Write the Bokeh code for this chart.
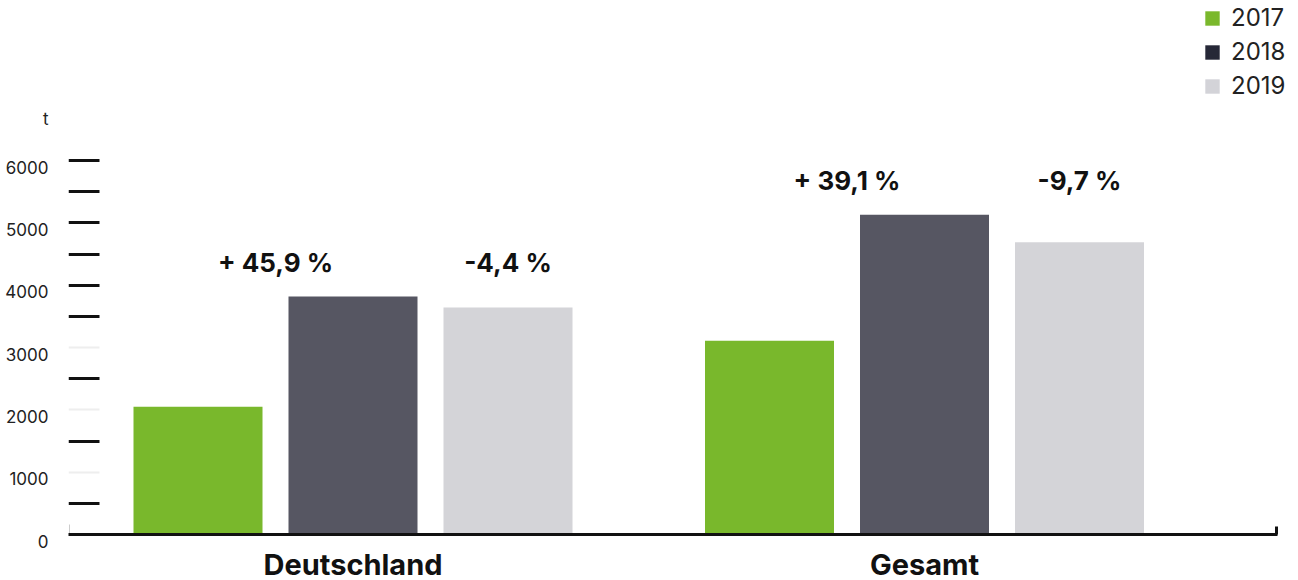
from bokeh.plotting import figure
from bokeh.models import (ColumnDataSource, Range1d, LinearAxis, FixedTicker, Grid,
                          Legend, LegendItem)
from bokeh.transform import dodge
from bokeh.core.properties import value
from bokeh.embed import file_html
from bokeh.resources import INLINE

# ---------------- data ----------------
groups = ["Deutschland", "Gesamt"]
years = ["2017", "2018", "2019"]
v2017 = [2050, 3110]
v2018 = [3820, 5130]
v2019 = [3640, 4690]
pct_up = ["+ 45,9 %", "+ 39,1 %"]
pct_down = ["-4,4 %", "-9,7 %"]
y_label_ticks = [0, 1000, 2000, 3000, 4000, 5000, 6000]
y_dark_marks = [500, 1500, 2500, 3500, 4000, 4500, 5000, 5500, 6000]
y_light_marks = [1000, 2000, 3000]
unit = "t"

# ---------------- style / layout ----------------
FONT = "Inter"
bar_colors = ["#79b82c", "#565662", "#d4d4d8"]
legend_colors = ["#7ab82c", "#262837", "#d3d3d8"]
W, H = 1298, 580
LEFT = 68
frame_h = H
base_px = 534                          # pixel row of value 0
px_x = 571.5                           # pixels per group unit
step = 155 / px_x                      # bar step
bw = 129 / px_x                        # bar width
x0 = -284.5 / px_x
x1 = x0 + (W - LEFT) / px_x
x_axis_end = x0 + (1277 - LEFT) / px_x
px_y = 374.0 / 6000                    # pixels per data unit
y0 = -(frame_h - base_px) / px_y
y1 = base_px / px_y
lbl_shift = 7 / px_y
unit_tick = round(y_label_ticks[-1] + 42 / px_y + lbl_shift)

src = ColumnDataSource(dict(gi=list(range(len(groups))), groups=groups,
                            v2017=v2017, v2018=v2018, v2019=v2019,
                            up=pct_up, down=pct_down))

p = figure(width=W, height=H, output_backend="svg", toolbar_location=None,
           x_range=Range1d(x0, x1), y_range=Range1d(y0, y1),
           x_axis_location=None, y_axis_location=None,
           min_border_left=LEFT, min_border_right=0,
           min_border_top=0, min_border_bottom=0)
p.outline_line_color = None
p.xgrid.visible = False
p.ygrid.visible = False
p.background_fill_color = "white"

# bars
for j, yr in enumerate(years):
    p.vbar(x=dodge("gi", (j - 1) * step), top="v" + yr, width=bw, bottom=0,
           source=src, fill_color=bar_colors[j], line_color=None)

# change labels
for col, off in (("up", -step / 2), ("down", step)):
    p.text(x=dodge("gi", off), y="v2018", text=col, source=src, y_offset=-34,
           text_align="center", text_baseline="middle", text_font=value(FONT),
           text_font_style="bold", text_font_size="26px", text_color="#111111")

# category labels under the baseline
p.text(x="gi", y=0, text="groups", source=src, y_offset=12,
       text_align="center", text_baseline="top", text_font=value(FONT),
       text_font_style="bold", text_font_size="29px", text_color="#111111")

# y axis labels (shifted a few px below their marks) + unit on top
p.extra_y_ranges = {"lbl": Range1d(y0 + lbl_shift, y1 + lbl_shift)}
ya = LinearAxis(y_range_name="lbl", ticker=FixedTicker(ticks=y_label_ticks + [unit_tick]))
ya.major_label_overrides = {unit_tick: unit}
ya.axis_line_color = None
ya.major_tick_line_color = None
ya.minor_tick_line_color = None
ya.major_tick_in = 0
ya.major_tick_out = 0
ya.major_label_standoff = 20
ya.major_label_text_font = FONT
ya.major_label_text_font_size = "17px"
ya.major_label_text_color = "#222222"
p.add_layout(ya, "left")

# short tick marks, baseline and end ticks drawn as bounded grids
tick_len = 31 / px_x
g_dark = Grid(dimension=1, ticker=FixedTicker(ticks=y_dark_marks),
              cross_bounds=(x0, x0 + tick_len), grid_line_color="#111111",
              grid_line_width=3)
g_light = Grid(dimension=1, ticker=FixedTicker(ticks=y_light_marks),
               cross_bounds=(x0, x0 + tick_len), grid_line_color="#eeeeee",
               grid_line_width=2)
g_base = Grid(dimension=1, ticker=FixedTicker(ticks=[0]),
              cross_bounds=(x0, x_axis_end), grid_line_color="#111111",
              grid_line_width=3, level="overlay")
g_end = Grid(dimension=0, ticker=FixedTicker(ticks=[x_axis_end - 1.5 / px_x]),
             cross_bounds=(0, 8 / px_y), grid_line_color="#111111", grid_line_width=3,
             level="overlay")
g_start = Grid(dimension=0, ticker=FixedTicker(ticks=[x0 + 0.5 / px_x]),
               cross_bounds=(0, 10 / px_y), grid_line_color="#cccccc", grid_line_width=1)
for g in (g_dark, g_light, g_base, g_end, g_start):
    p.add_layout(g)

# legend with dedicated (zero-size) swatch renderers
items = []
for j, yr in enumerate(years):
    r = p.vbar(x=[x0], top=[0], bottom=[0], width=0, fill_color=legend_colors[j],
               line_color=None)
    items.append(LegendItem(label=yr, renderers=[r]))
LEG_TOP, LEG_H = 2, 98
leg = Legend(items=items, location=(1203 - LEFT, frame_h - LEG_TOP - LEG_H),
             glyph_width=18, glyph_height=18, label_standoff=10, spacing=5,
             padding=0, margin=0, border_line_color=None, background_fill_alpha=0,
             label_text_font=FONT, label_text_font_size="24px",
             label_text_color="#222222", label_height=18)
p.add_layout(leg)

open("out.html", "w").write(file_html(p, INLINE))
